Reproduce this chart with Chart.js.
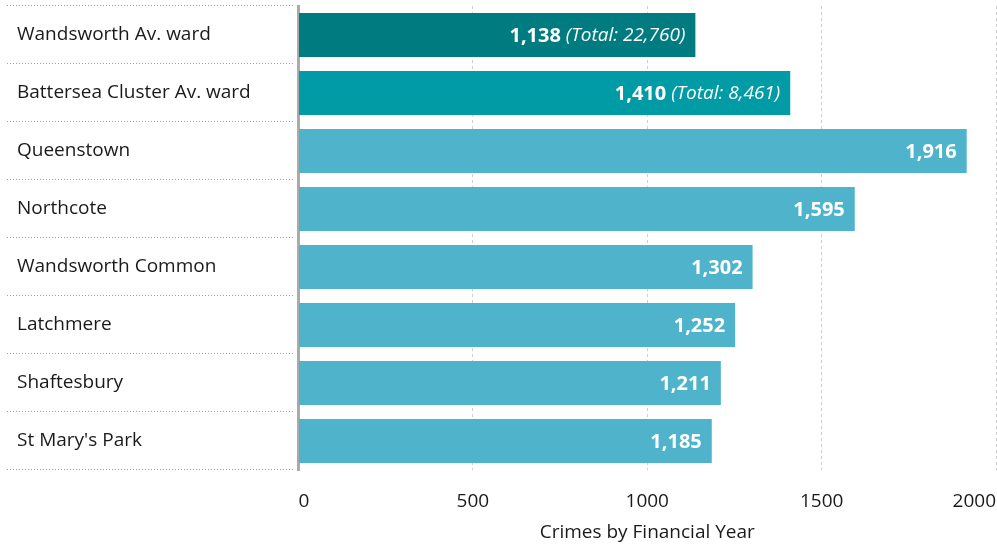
<!DOCTYPE html>
<html>
<head>
<meta charset="utf-8">
<script src="https://cdn.jsdelivr.net/npm/chart.js@4"></script>
<style>
  html, body { margin: 0; padding: 0; background: #fff; }
  #wrap { width: 997px; height: 546px; }
</style>
</head>
<body>
<div id="wrap"><canvas id="crimeChart"></canvas></div>
<script>
// chart data
const wards = ['Wandsworth Av. ward', 'Battersea Cluster Av. ward', 'Queenstown', 'Northcote',
  'Wandsworth Common', 'Latchmere', 'Shaftesbury', "St Mary's Park"];
const crimes = [1138, 1410, 1916, 1595, 1302, 1252, 1211, 1185];
const totals = [22760, 8461, null, null, null, null, null, null];
const barColors = ['#007B80', '#009BA5', '#4FB3CB', '#4FB3CB', '#4FB3CB', '#4FB3CB', '#4FB3CB', '#4FB3CB'];
const xTicks = [0, 500, 1000, 1500, 2000];

Chart.defaults.font.family = "'Open Sans', 'Noto Sans', sans-serif";
Chart.defaults.color = '#1a1a1a';

const fmt = n => n.toLocaleString('en-GB');

// dotted lines between the ward names
const rowLines = {
  id: 'rowLines',
  afterDraw(chart) {
    const { ctx, chartArea } = chart;
    const step = (chartArea.bottom - chartArea.top) / wards.length;
    ctx.save();
    ctx.strokeStyle = '#a0a0a0';
    ctx.lineWidth = 1;
    ctx.setLineDash([1, 2]);
    for (let i = 0; i <= wards.length; i++) {
      const y = Math.round(chartArea.top + i * step) - 0.5;
      ctx.beginPath();
      ctx.moveTo(7, y);
      ctx.lineTo(chartArea.left - 4, y);
      ctx.stroke();
    }
    ctx.restore();
  }
};

// value labels inside the bar ends
const barLabels = {
  id: 'barLabels',
  afterDatasetsDraw(chart) {
    const { ctx } = chart;
    const meta = chart.getDatasetMeta(0);
    ctx.save();
    ctx.fillStyle = '#fff';
    ctx.textBaseline = 'middle';
    ctx.textAlign = 'right';
    meta.data.forEach((bar, i) => {
      let x = bar.x - 10;
      const y = bar.y + 1;
      if (totals[i] != null) {
        ctx.font = "italic 19px 'Open Sans', sans-serif";
        const t = ' (Total: ' + fmt(totals[i]) + ')';
        ctx.fillText(t, x, y);
        x -= ctx.measureText(t).width;
      }
      ctx.font = "bold 20px 'Open Sans', sans-serif";
      ctx.fillText(fmt(crimes[i]), x, y);
    });
    ctx.restore();
  }
};

new Chart(document.getElementById('crimeChart'), {
  type: 'bar',
  data: {
    labels: wards,
    datasets: [{
      data: crimes,
      backgroundColor: barColors,
      barPercentage: 0.76,
      categoryPercentage: 1
    }]
  },
  options: {
    indexAxis: 'y',
    responsive: true,
    maintainAspectRatio: false,
    animation: false,
    layout: { padding: { left: 17, right: 1, top: 6, bottom: 2 } },
    plugins: { legend: { display: false }, tooltip: { enabled: false } },
    scales: {
      x: {
        min: 0,
        max: 2000,
        afterBuildTicks: s => { s.ticks = xTicks.map(v => ({ value: v })); },
        afterFit: s => { s.paddingLeft = 0; s.paddingRight = 0; s.height = 74; },
        grid: { color: '#cfcfcf', drawTicks: false },
        border: { display: false, dash: [3, 3] },
        ticks: { font: { size: 19 }, padding: 20, align: 'inner', maxRotation: 0, callback: v => String(v) },
        title: { display: true, text: 'Crimes by Financial Year', font: { size: 19 }, padding: { top: 4, bottom: 0 } }
      },
      y: {
        afterFit: s => { s.width = 281.5; s.paddingTop = 0; s.paddingBottom = 0; },
        grid: { display: false },
        border: { color: '#aaaaaa', width: 3 },
        ticks: { font: { size: 19 }, crossAlign: 'far', padding: 0 }
      }
    }
  },
  plugins: [rowLines, barLabels]
});
</script>
</body>
</html>
